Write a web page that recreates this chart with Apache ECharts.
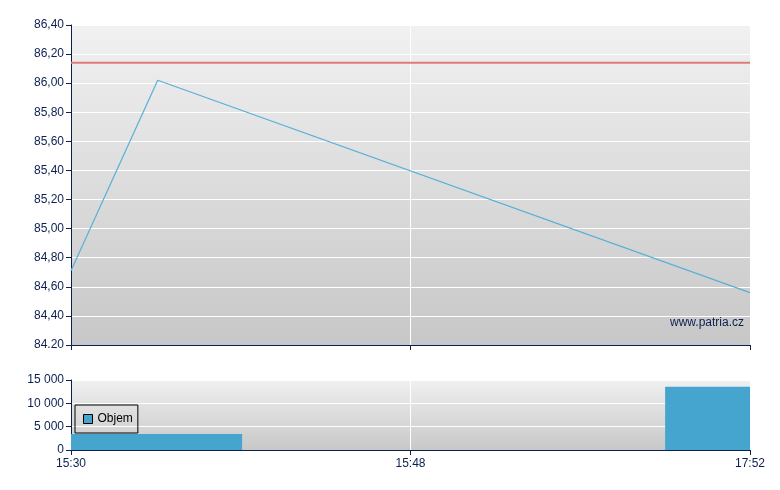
<!DOCTYPE html>
<html>
<head>
<meta charset="utf-8">
<script src="https://cdn.jsdelivr.net/npm/echarts@6/dist/echarts.min.js"></script>
<style>html,body{margin:0;padding:0;background:#fff;}#c{width:780px;height:490px;}</style>
</head>
<body>
<div id="c"></div>
<script>
// Time positions on the x scale (0 = 15:30, 50 = 15:48, 100 = 17:52)
var xTickLabels = ['15:30', '15:48', '17:52'];
var priceX = [0, 12.77, 100];
var priceY = [84.71, 86.02, 84.56];
var refPrice = 86.14;
var priceTickLabels = ['84.20','84,40','84,60','84,80','85,00','85,20','85,40','85,60','85,80','86,00','86,20','86,40'];
var volStart = [0, 87.5];
var volEnd = [25.2, 100];
var volValues = [3430, 13570];
var volTickLabels = ['0', '5 000', '10 000', '15 000'];

var navy = '#0c2050';
var font = 'Liberation Sans, Arial, sans-serif';
function bg(top, bottom) {
  return {type:'linear', x:0, y:0, x2:0, y2:1, colorStops:[{offset:0,color:top},{offset:1,color:bottom}]};
}

var priceData = priceX.map(function (x, i) { return [x, priceY[i]]; });
var volData = volStart.map(function (s, i) { return [s, volEnd[i], volValues[i]]; });

var chart = echarts.init(document.getElementById('c'), null, {renderer:'canvas'});
chart.setOption({
  animation: false,
  textStyle: {fontFamily: font},
  grid: [
    {left:71, top:25, width:679, height:320, show:true, borderWidth:0, backgroundColor:bg('#f1f1f1','#c7c7c7')},
    {left:71, top:380, width:679, height:70, show:true, borderWidth:0, backgroundColor:bg('#f0f0f0','#c8c8c8')}
  ],
  legend: {
    left: 75, top: 405, orient:'horizontal',
    borderColor:'#000', borderWidth:1, borderRadius:0,
    padding:[8,5,8,8], itemWidth:9, itemHeight:9, itemGap:4,
    textStyle:{fontSize:12, color:'#000', fontFamily:font},
    data:[{name:'Objem', icon:'rect', itemStyle:{color:'#46a5cf', borderColor:'#000', borderWidth:1}}]
  },
  xAxis: [
    {gridIndex:0, type:'value', min:0, max:100, interval:50,
     axisLine:{show:true, lineStyle:{color:navy, width:1}},
     axisTick:{show:true, length:5, lineStyle:{color:navy}},
     axisLabel:{show:false},
     splitLine:{show:true, lineStyle:{color:'#ffffff', width:1}}},
    {gridIndex:1, type:'value', min:0, max:100, interval:50,
     axisLine:{show:true, lineStyle:{color:navy, width:1}},
     axisTick:{show:true, length:5, lineStyle:{color:navy}},
     axisLabel:{show:true, color:navy, fontSize:12, margin:8, fontFamily:font,
       formatter:function (v) { return xTickLabels[Math.round(v/50)]; }},
     splitLine:{show:true, lineStyle:{color:'#ffffff', width:1}}}
  ],
  yAxis: [
    {gridIndex:0, type:'value', min:84.2, max:86.4, interval:0.2,
     axisLine:{show:true, lineStyle:{color:navy, width:1}},
     axisTick:{show:true, length:5, lineStyle:{color:navy}},
     axisLabel:{color:navy, fontSize:12, margin:7, fontFamily:font,
       formatter:function (v) { return priceTickLabels[Math.round((v-84.2)/0.2)]; }},
     splitLine:{show:true, lineStyle:{color:'#ffffff', width:1}}},
    {gridIndex:1, type:'value', min:0, max:15000, interval:5000,
     axisLine:{show:true, lineStyle:{color:navy, width:1}},
     axisTick:{show:true, length:5, lineStyle:{color:navy}},
     axisLabel:{color:navy, fontSize:12, margin:7, fontFamily:font,
       formatter:function (v) { return volTickLabels[Math.round(v/5000)]; }},
     splitLine:{show:true, lineStyle:{color:'#ffffff', width:1}}}
  ],
  graphic: [
    {type:'text', right:36, top:317, style:{text:'www.patria.cz', fill:navy, font:'12px ' + font}}
  ],
  series: [
    {type:'line', name:'ref', xAxisIndex:0, yAxisIndex:0, data:[[0,refPrice],[100,refPrice]],
     showSymbol:false, symbol:'none', lineStyle:{color:'#e07b7b', width:2}, silent:true},
    {type:'line', name:'Cena', xAxisIndex:0, yAxisIndex:0, data:priceData,
     showSymbol:false, symbol:'none', lineStyle:{color:'#58b0d8', width:1.2}, silent:true},
    {type:'custom', name:'Objem', xAxisIndex:1, yAxisIndex:1, data:volData,
     encode:{x:[0,1], y:2},
     itemStyle:{color:'#46a5cf'},
     renderItem:function (params, api) {
       var p0 = api.coord([api.value(0), api.value(2)]);
       var p1 = api.coord([api.value(1), 0]);
       return {type:'rect', shape:{x:p0[0], y:p0[1], width:p1[0]-p0[0], height:p1[1]-p0[1]},
               style:{fill:'#46a5cf'}};
     }}
  ]
});
</script>
</body>
</html>
